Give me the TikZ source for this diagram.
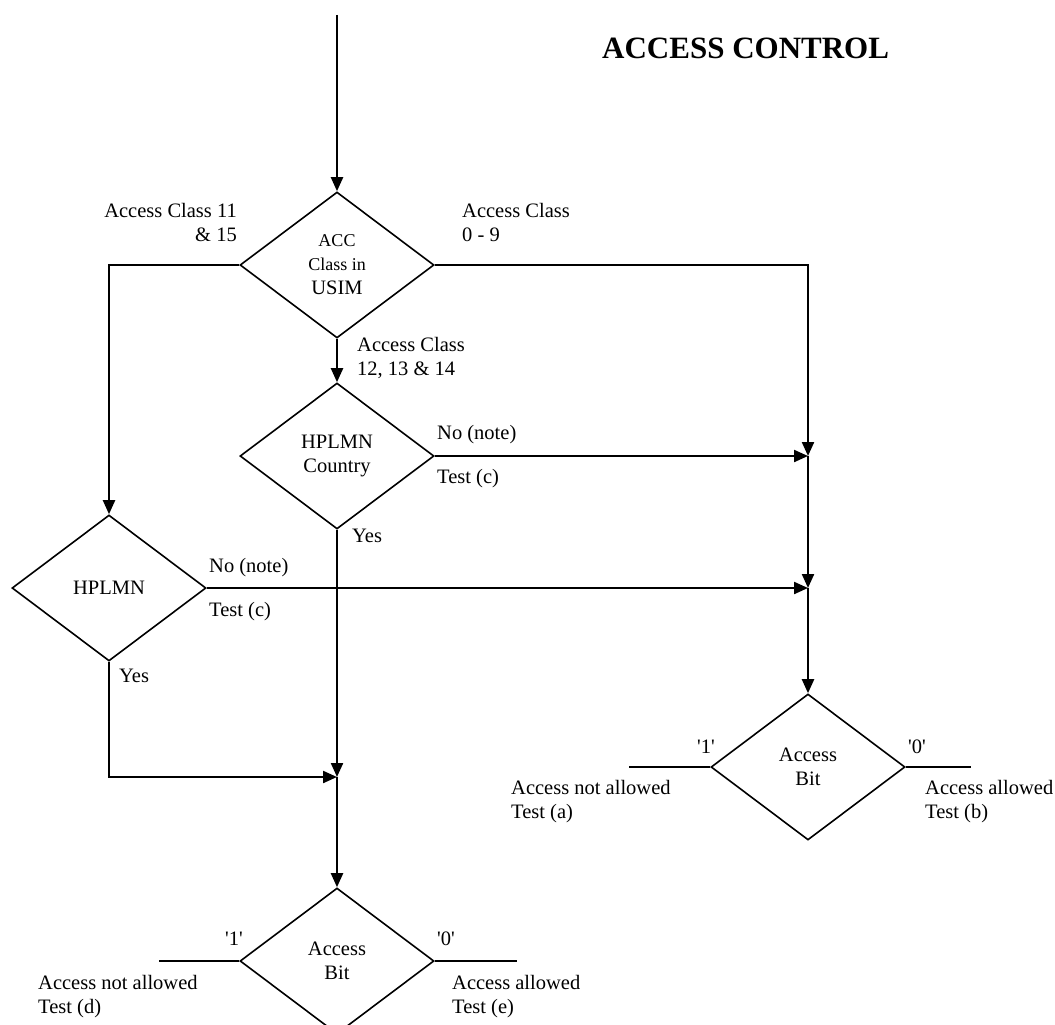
\documentclass[tikz,border=0pt]{standalone}
\usepackage{fontspec}
\setmainfont{Liberation Serif}[Ligatures=TeXOff]
\usetikzlibrary{shapes.geometric, arrows.meta, positioning, calc}

\newcommand{\lblfont}{\fontsize{20.5}{24}\selectfont}
\newcommand{\accfont}{\fontsize{18}{21}\selectfont}

\begin{document}
\begin{tikzpicture}[
    x=1pt, y=-1pt,
    decision/.style={diamond, draw, line width=1.6pt, minimum width=194pt, minimum height=146pt, inner sep=0pt, align=center, font=\lblfont},
    flow/.style={line width=2.2pt, -{Triangle[length=14pt,width=12pt]}},
    exit/.style={line width=1.6pt},
    lbl/.style={inner sep=0pt, font=\lblfont, align=left},
]

\useasboundingbox (0,0) rectangle (1055,1025);

% Title
\node[lbl, anchor=north west, font=\fontsize{31}{36}\selectfont\bfseries] (title) at (602,38) {ACCESS CONTROL};

% Decisions
\node[decision] (acc) at (337,265) {{\accfont ACC}\\{\accfont Class in}\\USIM};
\node[decision] (country) at (337,456) {HPLMN\\Country};
\node[decision] (hplmn) at (109,588) {HPLMN};
\node[decision] (bitR) at (808,767) {Access\\Bit};
\node[decision] (bitB) at (337,961) {Access\\Bit};

% Junctions and free ends
\coordinate (start) at (337,15);
\coordinate (joinA) at (808,456);
\coordinate (joinB) at (808,588);
\coordinate (joinC) at (337,777);
\coordinate (endRl) at (629,767);
\coordinate (endRr) at (971,767);
\coordinate (endBl) at (159,961);
\coordinate (endBr) at (517,961);

% Flow
\draw[flow] (start) -- (acc.north);
\draw[flow] (acc.west) -| (hplmn.north);
\draw[flow] (acc.east) -| (joinA);
\draw[flow] (acc.south) -- (country.north);
\draw[flow] (country.east) -- (joinA);
\draw[flow] (joinA) -- (joinB);
\draw[flow] (hplmn.east) -- (joinB);
\draw[flow] (joinB) -- (bitR.north);
\draw[flow] (country.south) -- (joinC);
\draw[flow] (hplmn.south) |- (joinC);
\draw[flow] (joinC) -- (bitB.north);

% Outcomes
\draw[exit] (bitR.west) -- (endRl);
\draw[exit] (bitR.east) -- (endRr);
\draw[exit] (bitB.west) -- (endBl);
\draw[exit] (bitB.east) -- (endBr);

% Branch labels
\node[lbl, anchor=north east, align=right] at (237,203) {Access Class 11\\\& 15};
\node[lbl, anchor=north west] at (462,203) {Access Class\\0 - 9};
\node[lbl, anchor=north west] at (357,337) {Access Class\\12, 13 \& 14};
\node[lbl, anchor=north west] at (437,425) {No (note)};
\node[lbl, anchor=north west] at (437,469) {Test (c)};
\node[lbl, anchor=north west] at (352,529) {Yes};
\node[lbl, anchor=north west] at (209,558) {No (note)};
\node[lbl, anchor=north west] at (209,602) {Test (c)};
\node[lbl, anchor=north west] at (119,669) {Yes};

% Access bit labels
\node[lbl, anchor=north east] at (715,740) {'1'};
\node[lbl, anchor=north west] at (908,740) {'0'};
\node[lbl, anchor=north west] at (511,780) {Access not allowed\\Test (a)};
\node[lbl, anchor=north west] at (925,780) {Access allowed\\Test (b)};
\node[lbl, anchor=north east] at (243,932) {'1'};
\node[lbl, anchor=north west] at (437,932) {'0'};
\node[lbl, anchor=north west] at (38,975) {Access not allowed\\Test (d)};
\node[lbl, anchor=north west] at (452,975) {Access allowed\\Test (e)};

\end{tikzpicture}
\end{document}
